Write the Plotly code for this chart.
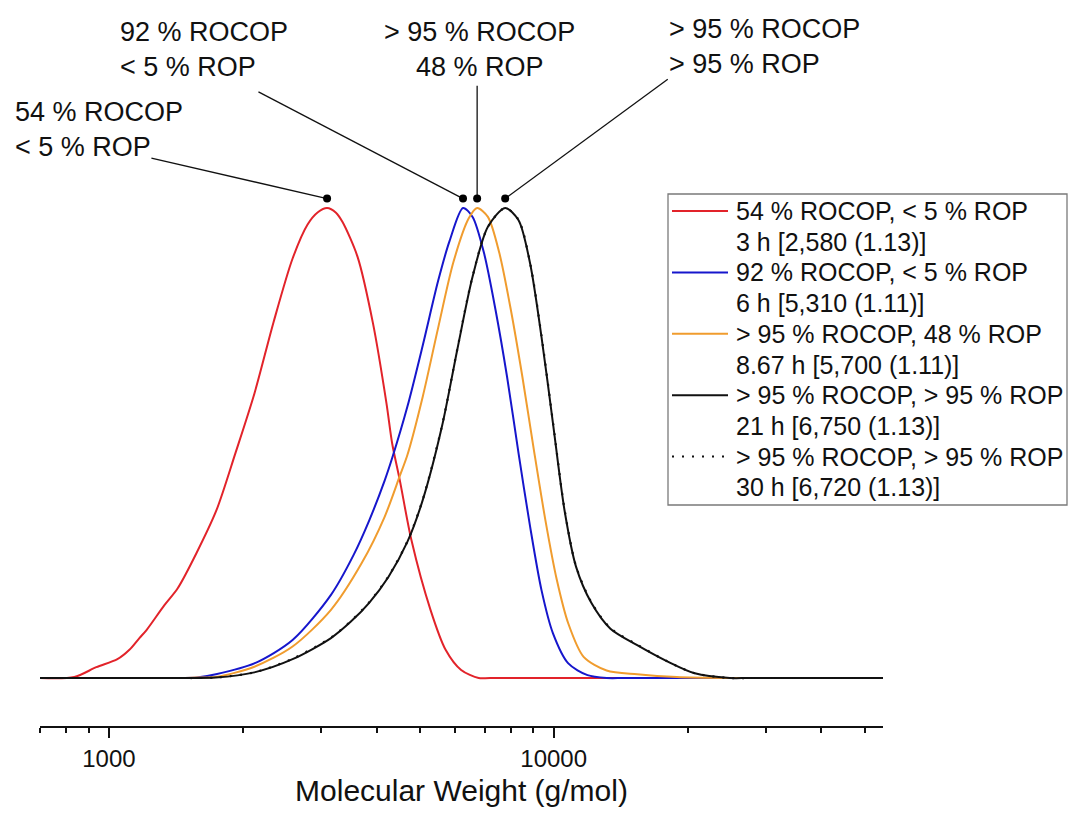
import numpy as np
import plotly.graph_objects as go

FONT = "Liberation Sans, Arial, sans-serif"

# GPC traces: molecular weight (g/mol) vs. normalised detector response
mw_3h = [700, 836, 937, 1045, 1112, 1171, 1215, 1333, 1428, 1574, 1745, 1926, 2125, 2345,
         2587, 2797, 2950, 3094, 3240, 3352, 3623, 3923, 4207, 4334, 4508, 4786, 5285, 5715,
         6193, 6781, 7200, 55000]
w_3h = [0, 0.002, 0.023, 0.040, 0.060, 0.085, 0.102, 0.155, 0.191, 0.266, 0.357, 0.479, 0.606, 0.757,
        0.892, 0.965, 0.991, 1.0, 0.990, 0.970, 0.896, 0.755, 0.585, 0.499, 0.421, 0.294, 0.145, 0.060,
        0.017, 0, 0, 0]

mw_6h = [700, 1450, 1577, 1740, 2123, 2588, 3157, 3550, 3847, 4168, 4334, 4691, 5078, 5498, 5834,
         6254, 6572, 6972, 7401, 7855, 8337, 8851, 9388, 9963, 10785, 11912, 13158, 14500, 55000]
w_6h = [0, 0, 0.001, 0.008, 0.031, 0.081, 0.177, 0.262, 0.335, 0.420, 0.468, 0.578, 0.708, 0.845, 0.930,
        1.0, 0.981, 0.904, 0.783, 0.641, 0.478, 0.322, 0.187, 0.095, 0.031, 0.006, 0, 0, 0]

mw_867h = [700, 1450, 1577, 1740, 2123, 2588, 3157, 3699, 4168, 4508, 4691, 5078, 5498, 5951, 6442,
           6728, 7114, 7548, 8012, 8503, 9026, 9579, 10162, 10785, 11675, 13152, 15408, 18911, 24502,
           27000, 55000]
w_867h = [0, 0, 0.001, 0.002, 0.024, 0.067, 0.145, 0.244, 0.343, 0.430, 0.475, 0.599, 0.745, 0.885, 0.978,
          1.0, 0.981, 0.904, 0.783, 0.641, 0.485, 0.336, 0.209, 0.116, 0.045, 0.016, 0.008, 0.002, 0,
          0, 0]

mw_21h = [700, 1300, 1428, 1740, 2123, 2588, 3157, 3500, 3847, 4250, 4691, 5078, 5607, 6069, 6572, 7114,
          7779, 8337, 8851, 9388, 9963, 10576, 11225, 12150, 13412, 15408, 18047, 20762, 24883, 27500,
          55000]
w_21h = [0, 0, 0, 0.001, 0.012, 0.040, 0.085, 0.120, 0.160, 0.215, 0.290, 0.379, 0.535, 0.698, 0.854, 0.960,
         1.0, 0.974, 0.882, 0.726, 0.542, 0.357, 0.237, 0.160, 0.105, 0.070, 0.035, 0.010, 0, 0,
         0]

mw_30h = [700, 1300, 1428, 1740, 2123, 2588, 3157, 3500, 3847, 4250, 4691, 5078, 5607, 6069, 6572, 7114,
          7779, 8337, 8851, 9388, 9963, 10576, 11225, 12150, 13412, 15408, 18047, 20762, 24883, 27500,
          55000]
w_30h = [0, 0, 0, 0.001, 0.012, 0.041, 0.086, 0.121, 0.161, 0.216, 0.291, 0.380, 0.536, 0.699, 0.855, 0.960,
         1.0, 0.975, 0.883, 0.728, 0.544, 0.359, 0.238, 0.161, 0.106, 0.071, 0.035, 0.010, 0, 0,
         0]

legend_main = ["54 % ROCOP, < 5 % ROP", "92 % ROCOP, < 5 % ROP", "> 95 % ROCOP, 48 % ROP",
               "> 95 % ROCOP, > 95 % ROP", "> 95 % ROCOP, > 95 % ROP"]
legend_sub = ["3 h [2,580 (1.13)]", "6 h [5,310 (1.11)]", "8.67 h [5,700 (1.11)]",
              "21 h [6,750 (1.13)]", "30 h [6,720 (1.13)]"]
colors = ["#e2232a", "#1616cc", "#f09c2e", "#111111", "#111111"]
dashes = ["solid", "solid", "solid", "solid", "2px,8px"]

# peak callouts: label text and the (M, w) point where each leader line starts
callout_text = ["54 % ROCOP<br>< 5 % ROP", "92 % ROCOP<br>< 5 % ROP",
                "> 95 % ROCOP<br>48 % ROP", "> 95 % ROCOP<br>> 95 % ROP"]
callout_start_mw = [1246, 2169, 6728, 18050]
callout_start_w = [1.106, 1.247, 1.26, 1.274]
dot_offset = 1.02

minor_vals = [700, 800, 900, 2000, 3000, 4000, 5000, 6000, 7000, 8000, 9000,
              20000, 30000, 40000, 50000]

xs = [mw_3h, mw_6h, mw_867h, mw_21h, mw_30h]
ys = [w_3h, w_6h, w_867h, w_21h, w_30h]

# plot-area geometry (pixels) used to place the labels and the legend box
L, R, T, B = 40, 883, 20, 726
W, H = 1069, 817


def px(x):
    return (x - L) / (R - L)


def py(y):
    return (B - y) / (B - T)


fig = go.Figure()

for i in range(5):
    fig.add_trace(go.Scatter(
        x=xs[i], y=ys[i], mode="lines",
        line=dict(color=colors[i], width=2 if i < 4 else 2.2, dash=dashes[i],
                  shape="spline", smoothing=0.8),
        showlegend=False, hoverinfo="skip"))

# peak markers and leader lines
peak_mw = [xs[i][int(np.argmax(ys[i]))] for i in range(4)]
for i in range(4):
    fig.add_trace(go.Scatter(
        x=[callout_start_mw[i], peak_mw[i]], y=[callout_start_w[i], dot_offset],
        mode="lines", line=dict(color="#111111", width=1.3),
        showlegend=False, hoverinfo="skip"))
fig.add_trace(go.Scatter(
    x=peak_mw, y=[dot_offset] * 4, mode="markers",
    marker=dict(color="#000000", size=8), showlegend=False, hoverinfo="skip"))

annotations = []
# callout labels
label_pos = [(13, 129.5, "left"), (118, 50, "left"), (479, 50, "center"), (667, 46.5, "left")]
for (lx, ly, anc), txt in zip(label_pos, callout_text):
    annotations.append(dict(
        xref="paper", yref="paper", x=px(lx), y=py(ly), text=txt, showarrow=False,
        xanchor=anc, yanchor="middle", align=anc,
        font=dict(family=FONT, size=27, color="#111111")))

# legend box, samples and text
shapes = [dict(type="rect", xref="paper", yref="paper",
               x0=px(668), x1=px(1067), y0=py(505), y1=py(194),
               line=dict(color="#7a7a7a", width=1.3), fillcolor="white", layer="above")]
line_step = 30.7
for i in range(5):
    y_main = 211 + 2 * i * line_step
    y_sub = y_main + line_step
    shapes.append(dict(type="line", xref="paper", yref="paper",
                       x0=px(672), x1=px(728), y0=py(y_main), y1=py(y_main),
                       line=dict(color=colors[i], width=2, dash=dashes[i]), layer="above"))
    for yy, txt in ((y_main, legend_main[i]), (y_sub, legend_sub[i])):
        annotations.append(dict(
            xref="paper", yref="paper", x=px(734), y=py(yy), text=txt, showarrow=False,
            xanchor="left", yanchor="middle", align="left",
            font=dict(family=FONT, size=25, color="#111111")))

fig.update_layout(
    width=W, height=H,
    margin=dict(l=L, r=W - R, t=T, b=H - B, pad=0),
    paper_bgcolor="white", plot_bgcolor="white",
    shapes=shapes, annotations=annotations,
    xaxis=dict(
        type="log", range=[np.log10(700), np.log10(55000)],
        showline=True, linecolor="#111111", linewidth=2, mirror=False,
        ticks="outside", ticklen=10, tickwidth=2, tickcolor="#111111",
        tickvals=[1000, 10000], ticktext=["1000", "10000"],
        tickfont=dict(family=FONT, size=24, color="#111111"),
        showgrid=False, zeroline=False,
        minor=dict(tickvals=minor_vals, ticks="outside", ticklen=5, tickwidth=2,
                   tickcolor="#111111", showgrid=False),
        title=dict(text="Molecular Weight (g/mol)", standoff=9,
                   font=dict(family=FONT, size=30, color="#111111")),
    ),
    yaxis=dict(visible=False, range=[-0.10213, 1.4], showgrid=False, zeroline=False),
)

fig.write_html("out.html")
